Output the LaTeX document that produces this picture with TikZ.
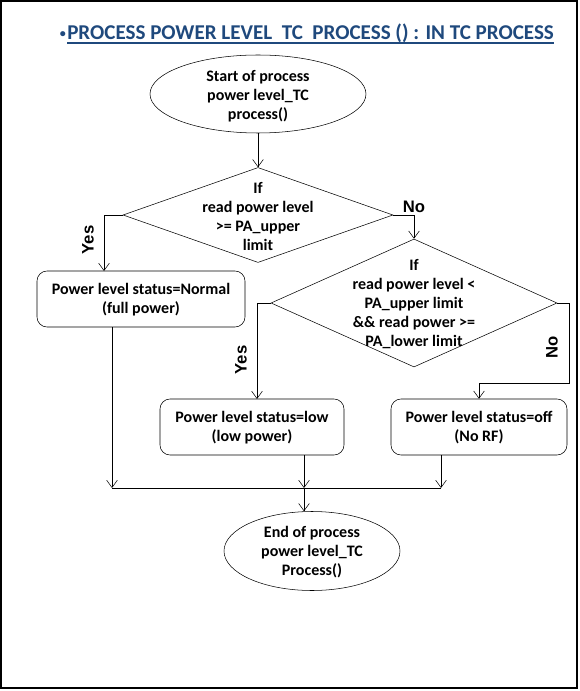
\documentclass[tikz,border=0pt]{standalone}
\usepackage{fontspec}
\setmainfont{Carlito}
\newfontfamily\labelfont{Liberation Sans}
\usetikzlibrary{shapes.geometric,arrows.meta}
\definecolor{titleblue}{HTML}{1F497D}
\begin{document}
\begin{tikzpicture}[x=0.75pt,y=-0.75pt,
    txt/.style={align=center,inner sep=0pt,font=\fontsize{12}{14.25}\selectfont\bfseries},
    terminal/.style={ellipse,draw,inner sep=0pt},
    decision/.style={diamond,draw,inner sep=0pt},
    statusbox/.style={rectangle,rounded corners=7.5pt,draw,inner sep=0pt,minimum height=42pt},
    arr/.style={-{Straight Barb[length=5.5pt,width=8pt]}},
    branch/.style={font=\labelfont\fontsize{12.5}{14}\selectfont\bfseries,rotate=90,inner sep=0pt}]
  \useasboundingbox (0,0) rectangle (579,691);
  \draw[line width=1.2pt] (1,1) rectangle (577,688);
  % title
  \node[anchor=base west,inner sep=0pt,text=titleblue,font=\fontsize{15.8}{18}\selectfont\bfseries] (title) at (67,40)
    {PROCESS POWER LEVEL\ \ TC\ \ PROCESS () : IN TC PROCESS};
  \node[anchor=base east,inner sep=0pt,text=titleblue,font=\fontsize{9}{11}\selectfont\bfseries] (dot) at (66,38) {•};
  \draw[titleblue,line width=1.1pt] ([yshift=-2.4pt]title.base west) -- ([yshift=-2.4pt]title.base east);
  % shapes
  \node[terminal,minimum width=162pt,minimum height=58.5pt] (start) at (258,94) {};
  \node[txt] (starttxt) at (258,96) {Start of process\\power level\_TC\\process()};
  \node[decision,minimum width=202.5pt,minimum height=71.25pt] (d1) at (258,215) {};
  \node[txt] (d1txt) at (258,217) {If\\read power level\\>= PA\_upper\\limit};
  \node[decision,minimum width=214.5pt,minimum height=96pt] (d2) at (414,303) {};
  \node[txt] (d2txt) at (414,304) {If\\read power level <\\PA\_upper limit\\\&\& read power >=\\PA\_lower limit};
  \node[statusbox,minimum width=156pt] (normal) at (141,299) {};
  \node[txt] (normaltxt) at (141,300) {Power level status=Normal\\(full power)};
  \node[statusbox,minimum width=138pt] (low) at (252,427) {};
  \node[txt] (lowtxt) at (252,428) {Power level status=low\\(low power)};
  \node[statusbox,minimum width=132pt] (off) at (479,427) {};
  \node[txt] (offtxt) at (479,428) {Power level status=off\\(No RF)};
  \node[terminal,minimum width=132pt,minimum height=59.25pt] (end) at (312,551) {};
  \node[txt] (endtxt) at (312,552) {End of process\\power level\_TC\\Process()};
  % connectors
  \coordinate (yes1) at (104,271);
  \coordinate (yes2) at (257,399);
  \coordinate (j1) at (112,488);
  \coordinate (j2) at (304,488);
  \coordinate (j3) at (441,488);
  \draw[arr] (start) -- (d1);
  \draw[arr] (d1.west) -| (yes1);
  \draw[arr] (d1.east) -| (d2.north);
  \draw[arr] (d2.west) -| (yes2);
  \draw[arr] (d2.east) -- ++(12,0) -- ++(0,80) -| (off.north);
  \draw[arr] (normal.south -| j1) -- (j1);
  \draw[arr] (low.south -| j2) -- (j2);
  \draw[arr] (off.south -| j3) -- (j3);
  \draw (j1) -- (j3);
  \draw[arr] (j2) -- (end.north -| j2);
  % branch labels
  \node[branch] (yes1lbl) at (88,240) {Yes};
  \node[branch] (yes2lbl) at (241,360) {Yes};
  \node[branch] (no2lbl) at (552,347) {No};
  \node[branch,rotate=-90] (no1lbl) at (414,207) {No};
\end{tikzpicture}
\end{document}
